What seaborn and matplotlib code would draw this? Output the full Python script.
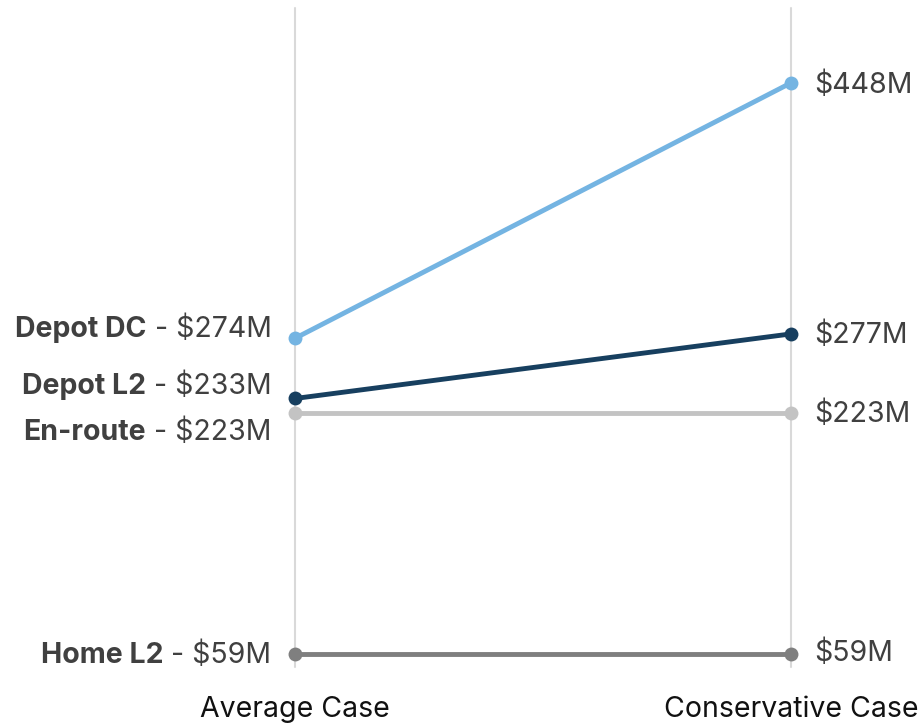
import matplotlib
matplotlib.use("Agg")
import matplotlib.pyplot as plt
import seaborn as sns
import pandas as pd
from matplotlib.offsetbox import TextArea, HPacker, AnnotationBbox

# Scenario data
categories = ["Depot DC", "Depot L2", "En-route", "Home L2"]
scenarios = ["Average Case", "Conservative Case"]
average_case = [274, 233, 223, 59]
conservative_case = [448, 277, 223, 59]
colors = ["#74B4E2", "#173F5F", "#C3C3C3", "#7F7F7F"]

# vertical nudges (points) for labels so they don't collide
left_nudge = [6.5, 8.5, -14, -1]
right_nudge = [-1.5, -1, -1, 0.5]

rows = []
for cat, a, c in zip(categories, average_case, conservative_case):
    rows.append({"category": cat, "pos": 0, "value": a})
    rows.append({"category": cat, "pos": 1, "value": c})
df = pd.DataFrame(rows)

sns.set_theme(style="white")
plt.rcParams["font.family"] = ["Inter", "DejaVu Sans"]

FS = 20.5

fig = plt.figure(figsize=(9.24, 7.26), dpi=100)
ax = fig.add_axes([295 / 924, 59 / 726, (791 - 295) / 924, (667 - 8) / 726])

for x in (0, 1):
    ax.axvline(x, color="#D9D9D9", lw=1.5, zorder=0)

sns.lineplot(data=df, x="pos", y="value", hue="category", hue_order=categories,
             palette=colors, linewidth=3.5, marker="o", markersize=10,
             markeredgewidth=0, legend=False, ax=ax, zorder=3)
for line in ax.lines:
    line.set_clip_on(False)

ax.set_xlim(0, 1)
ax.set_ylim(50.1, 499)
ax.set_xticks([0, 1])
ax.set_xticklabels(scenarios, fontsize=FS, color="#111111")
ax.tick_params(axis="x", length=0, pad=21)
ax.set_yticks([])
ax.set_xlabel("")
ax.set_ylabel("")
for s in ax.spines.values():
    s.set_visible(False)

text_color = "#404040"
for cat, a, c, dl, dr in zip(categories, average_case, conservative_case,
                              left_nudge, right_nudge):
    name = TextArea(cat, textprops=dict(fontsize=FS, fontweight="bold", color=text_color))
    val = TextArea(f" - ${a}M", textprops=dict(fontsize=FS, color=text_color))
    box = HPacker(children=[name, val], align="baseline", pad=0, sep=0)
    ab = AnnotationBbox(box, (0, a), xybox=(-17, dl), xycoords="data",
                        boxcoords="offset points", box_alignment=(1, 0.5),
                        frameon=False, annotation_clip=False)
    ax.add_artist(ab)
    ax.annotate(f"${c}M", xy=(1, c), xytext=(17, dr), textcoords="offset points",
                ha="left", va="center", fontsize=FS, color=text_color,
                annotation_clip=False)

fig.savefig("out.png", dpi=100)
